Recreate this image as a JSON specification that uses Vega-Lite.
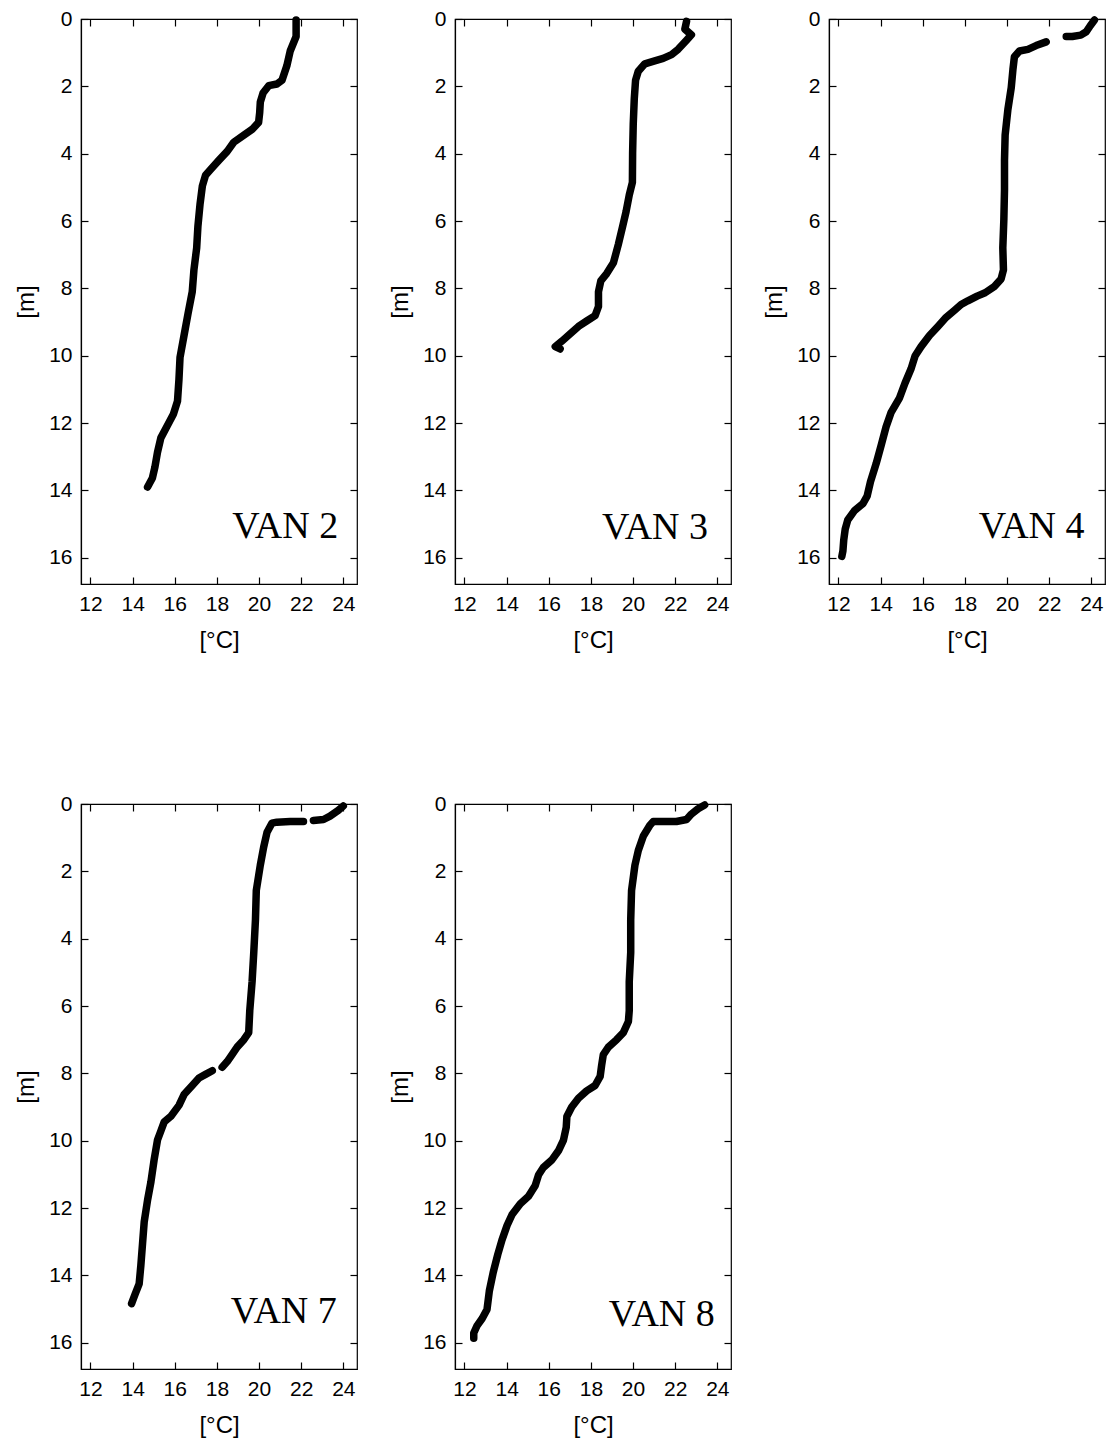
{
"$schema":"https://vega.github.io/schema/vega-lite/v6.json",
"background":"white",
"padding":{"left":14,"top":7,"right":5,"bottom":5},
"config":{"font":"Liberation Sans","view":{"stroke":"#000","strokeWidth":1.2},
"axis":{"grid":false,"labelFont":"Liberation Sans","labelFontSize":21,"labelColor":"#000","titleFont":"Liberation Sans","titleFontSize":24,"titleFontWeight":"normal","titleColor":"#000","tickColor":"#000","tickWidth":1.2,"domainColor":"#000","domainWidth":1.2,"tickSize":-7,"labelFlush":false}},
"data":{"values":[
{"s":"VAN 2","seg":1,"t":21.76,"d":0.03},{"s":"VAN 2","seg":1,"t":21.76,"d":0.52},{"s":"VAN 2","seg":1,"t":21.48,"d":0.95},{"s":"VAN 2","seg":1,"t":21.32,"d":1.39},{"s":"VAN 2","seg":1,"t":21.09,"d":1.82},{"s":"VAN 2","seg":1,"t":20.85,"d":1.93},{"s":"VAN 2","seg":1,"t":20.46,"d":1.98},{"s":"VAN 2","seg":1,"t":20.19,"d":2.2},{"s":"VAN 2","seg":1,"t":20.06,"d":2.47},{"s":"VAN 2","seg":1,"t":20.03,"d":2.79},{"s":"VAN 2","seg":1,"t":19.98,"d":3.07},{"s":"VAN 2","seg":1,"t":19.67,"d":3.28},{"s":"VAN 2","seg":1,"t":19.28,"d":3.45},{"s":"VAN 2","seg":1,"t":18.8,"d":3.66},{"s":"VAN 2","seg":1,"t":18.49,"d":3.93},{"s":"VAN 2","seg":1,"t":18.09,"d":4.2},{"s":"VAN 2","seg":1,"t":17.7,"d":4.47},{"s":"VAN 2","seg":1,"t":17.46,"d":4.64},{"s":"VAN 2","seg":1,"t":17.31,"d":4.96},{"s":"VAN 2","seg":1,"t":17.2,"d":5.5},{"s":"VAN 2","seg":1,"t":17.1,"d":6.15},{"s":"VAN 2","seg":1,"t":17.04,"d":6.8},{"s":"VAN 2","seg":1,"t":16.91,"d":7.45},{"s":"VAN 2","seg":1,"t":16.83,"d":8.1},{"s":"VAN 2","seg":1,"t":16.63,"d":8.75},{"s":"VAN 2","seg":1,"t":16.44,"d":9.4},{"s":"VAN 2","seg":1,"t":16.25,"d":10.05},{"s":"VAN 2","seg":1,"t":16.2,"d":10.7},{"s":"VAN 2","seg":1,"t":16.13,"d":11.35},{"s":"VAN 2","seg":1,"t":15.94,"d":11.73},{"s":"VAN 2","seg":1,"t":15.62,"d":12.11},{"s":"VAN 2","seg":1,"t":15.34,"d":12.44},{"s":"VAN 2","seg":1,"t":15.18,"d":12.87},{"s":"VAN 2","seg":1,"t":15.06,"d":13.3},{"s":"VAN 2","seg":1,"t":14.94,"d":13.63},{"s":"VAN 2","seg":1,"t":14.71,"d":13.9},
{"s":"VAN 3","seg":1,"t":22.54,"d":0.07},{"s":"VAN 3","seg":1,"t":22.46,"d":0.3},{"s":"VAN 3","seg":1,"t":22.77,"d":0.47},{"s":"VAN 3","seg":1,"t":22.54,"d":0.63},{"s":"VAN 3","seg":1,"t":22.14,"d":0.9},{"s":"VAN 3","seg":1,"t":21.83,"d":1.06},{"s":"VAN 3","seg":1,"t":21.43,"d":1.17},{"s":"VAN 3","seg":1,"t":20.99,"d":1.25},{"s":"VAN 3","seg":1,"t":20.56,"d":1.33},{"s":"VAN 3","seg":1,"t":20.25,"d":1.55},{"s":"VAN 3","seg":1,"t":20.12,"d":1.82},{"s":"VAN 3","seg":1,"t":20.06,"d":2.36},{"s":"VAN 3","seg":1,"t":20.01,"d":3.12},{"s":"VAN 3","seg":1,"t":19.98,"d":3.99},{"s":"VAN 3","seg":1,"t":19.97,"d":4.85},{"s":"VAN 3","seg":1,"t":19.82,"d":5.23},{"s":"VAN 3","seg":1,"t":19.67,"d":5.72},{"s":"VAN 3","seg":1,"t":19.51,"d":6.15},{"s":"VAN 3","seg":1,"t":19.3,"d":6.7},{"s":"VAN 3","seg":1,"t":19.07,"d":7.24},{"s":"VAN 3","seg":1,"t":18.75,"d":7.56},{"s":"VAN 3","seg":1,"t":18.47,"d":7.78},{"s":"VAN 3","seg":1,"t":18.36,"d":8.1},{"s":"VAN 3","seg":1,"t":18.36,"d":8.54},{"s":"VAN 3","seg":1,"t":18.2,"d":8.81},{"s":"VAN 3","seg":1,"t":17.8,"d":8.97},{"s":"VAN 3","seg":1,"t":17.41,"d":9.13},{"s":"VAN 3","seg":1,"t":17.02,"d":9.35},{"s":"VAN 3","seg":1,"t":16.62,"d":9.57},{"s":"VAN 3","seg":1,"t":16.31,"d":9.73},{"s":"VAN 3","seg":1,"t":16.54,"d":9.8},
{"s":"VAN 4","seg":1,"t":24.15,"d":0.03},{"s":"VAN 4","seg":1,"t":23.95,"d":0.2},{"s":"VAN 4","seg":1,"t":23.76,"d":0.38},{"s":"VAN 4","seg":1,"t":23.5,"d":0.48},{"s":"VAN 4","seg":1,"t":23.1,"d":0.52},{"s":"VAN 4","seg":1,"t":22.81,"d":0.52},
{"s":"VAN 4","seg":2,"t":21.86,"d":0.68},{"s":"VAN 4","seg":2,"t":21.38,"d":0.79},{"s":"VAN 4","seg":2,"t":20.99,"d":0.9},{"s":"VAN 4","seg":2,"t":20.59,"d":0.95},{"s":"VAN 4","seg":2,"t":20.35,"d":1.12},{"s":"VAN 4","seg":2,"t":20.28,"d":1.5},{"s":"VAN 4","seg":2,"t":20.2,"d":2.04},{"s":"VAN 4","seg":2,"t":20.04,"d":2.69},{"s":"VAN 4","seg":2,"t":19.91,"d":3.45},{"s":"VAN 4","seg":2,"t":19.88,"d":4.2},{"s":"VAN 4","seg":2,"t":19.88,"d":5.07},{"s":"VAN 4","seg":2,"t":19.85,"d":5.94},{"s":"VAN 4","seg":2,"t":19.8,"d":6.8},{"s":"VAN 4","seg":2,"t":19.83,"d":7.45},{"s":"VAN 4","seg":2,"t":19.72,"d":7.72},{"s":"VAN 4","seg":2,"t":19.41,"d":7.94},{"s":"VAN 4","seg":2,"t":18.96,"d":8.13},{"s":"VAN 4","seg":2,"t":18.58,"d":8.23},{"s":"VAN 4","seg":2,"t":18.14,"d":8.37},{"s":"VAN 4","seg":2,"t":17.82,"d":8.48},{"s":"VAN 4","seg":2,"t":17.51,"d":8.65},{"s":"VAN 4","seg":2,"t":17.11,"d":8.86},{"s":"VAN 4","seg":2,"t":16.72,"d":9.13},{"s":"VAN 4","seg":2,"t":16.32,"d":9.4},{"s":"VAN 4","seg":2,"t":15.92,"d":9.73},{"s":"VAN 4","seg":2,"t":15.64,"d":10.0},{"s":"VAN 4","seg":2,"t":15.45,"d":10.38},{"s":"VAN 4","seg":2,"t":15.16,"d":10.81},{"s":"VAN 4","seg":2,"t":14.9,"d":11.25},{"s":"VAN 4","seg":2,"t":14.5,"d":11.68},{"s":"VAN 4","seg":2,"t":14.26,"d":12.11},{"s":"VAN 4","seg":2,"t":14.03,"d":12.65},{"s":"VAN 4","seg":2,"t":13.79,"d":13.2},{"s":"VAN 4","seg":2,"t":13.52,"d":13.74},{"s":"VAN 4","seg":2,"t":13.36,"d":14.17},{"s":"VAN 4","seg":2,"t":13.16,"d":14.39},{"s":"VAN 4","seg":2,"t":12.76,"d":14.6},{"s":"VAN 4","seg":2,"t":12.44,"d":14.88},{"s":"VAN 4","seg":2,"t":12.32,"d":15.15},{"s":"VAN 4","seg":2,"t":12.25,"d":15.47},{"s":"VAN 4","seg":2,"t":12.21,"d":15.8},{"s":"VAN 4","seg":2,"t":12.16,"d":15.96},
{"s":"VAN 7","seg":1,"t":24.0,"d":0.06},{"s":"VAN 7","seg":1,"t":23.76,"d":0.19},{"s":"VAN 7","seg":1,"t":23.37,"d":0.36},{"s":"VAN 7","seg":1,"t":23.06,"d":0.46},{"s":"VAN 7","seg":1,"t":22.58,"d":0.49},
{"s":"VAN 7","seg":2,"t":22.11,"d":0.52},{"s":"VAN 7","seg":2,"t":21.48,"d":0.52},{"s":"VAN 7","seg":2,"t":20.85,"d":0.54},{"s":"VAN 7","seg":2,"t":20.61,"d":0.57},{"s":"VAN 7","seg":2,"t":20.38,"d":0.84},{"s":"VAN 7","seg":2,"t":20.22,"d":1.28},{"s":"VAN 7","seg":2,"t":20.06,"d":1.82},{"s":"VAN 7","seg":2,"t":19.87,"d":2.57},{"s":"VAN 7","seg":2,"t":19.83,"d":3.44},{"s":"VAN 7","seg":2,"t":19.75,"d":4.41},{"s":"VAN 7","seg":2,"t":19.67,"d":5.28},{"s":"VAN 7","seg":2,"t":19.56,"d":6.14},{"s":"VAN 7","seg":2,"t":19.51,"d":6.79},{"s":"VAN 7","seg":2,"t":19.28,"d":7.0},{"s":"VAN 7","seg":2,"t":18.96,"d":7.22},{"s":"VAN 7","seg":2,"t":18.72,"d":7.44},{"s":"VAN 7","seg":2,"t":18.49,"d":7.65},{"s":"VAN 7","seg":2,"t":18.25,"d":7.82},
{"s":"VAN 7","seg":3,"t":17.78,"d":7.92},{"s":"VAN 7","seg":3,"t":17.46,"d":8.03},{"s":"VAN 7","seg":3,"t":17.15,"d":8.14},{"s":"VAN 7","seg":3,"t":16.83,"d":8.36},{"s":"VAN 7","seg":3,"t":16.44,"d":8.63},{"s":"VAN 7","seg":3,"t":16.2,"d":8.95},{"s":"VAN 7","seg":3,"t":15.81,"d":9.28},{"s":"VAN 7","seg":3,"t":15.5,"d":9.44},{"s":"VAN 7","seg":3,"t":15.34,"d":9.71},{"s":"VAN 7","seg":3,"t":15.18,"d":9.98},{"s":"VAN 7","seg":3,"t":15.02,"d":10.57},{"s":"VAN 7","seg":3,"t":14.87,"d":11.22},{"s":"VAN 7","seg":3,"t":14.71,"d":11.76},{"s":"VAN 7","seg":3,"t":14.55,"d":12.41},{"s":"VAN 7","seg":3,"t":14.47,"d":13.06},{"s":"VAN 7","seg":3,"t":14.39,"d":13.71},{"s":"VAN 7","seg":3,"t":14.31,"d":14.25},{"s":"VAN 7","seg":3,"t":14.11,"d":14.57},{"s":"VAN 7","seg":3,"t":13.95,"d":14.84},
{"s":"VAN 8","seg":1,"t":23.4,"d":0.03},{"s":"VAN 8","seg":1,"t":23.09,"d":0.14},{"s":"VAN 8","seg":1,"t":22.77,"d":0.3},{"s":"VAN 8","seg":1,"t":22.54,"d":0.46},{"s":"VAN 8","seg":1,"t":22.06,"d":0.52},{"s":"VAN 8","seg":1,"t":21.43,"d":0.52},{"s":"VAN 8","seg":1,"t":20.96,"d":0.52},{"s":"VAN 8","seg":1,"t":20.8,"d":0.63},{"s":"VAN 8","seg":1,"t":20.49,"d":0.95},{"s":"VAN 8","seg":1,"t":20.25,"d":1.38},{"s":"VAN 8","seg":1,"t":20.09,"d":1.82},{"s":"VAN 8","seg":1,"t":19.93,"d":2.57},{"s":"VAN 8","seg":1,"t":19.89,"d":3.44},{"s":"VAN 8","seg":1,"t":19.89,"d":4.41},{"s":"VAN 8","seg":1,"t":19.82,"d":5.28},{"s":"VAN 8","seg":1,"t":19.82,"d":6.14},{"s":"VAN 8","seg":1,"t":19.78,"d":6.46},{"s":"VAN 8","seg":1,"t":19.54,"d":6.79},{"s":"VAN 8","seg":1,"t":19.22,"d":7.0},{"s":"VAN 8","seg":1,"t":18.83,"d":7.22},{"s":"VAN 8","seg":1,"t":18.59,"d":7.44},{"s":"VAN 8","seg":1,"t":18.51,"d":7.76},{"s":"VAN 8","seg":1,"t":18.44,"d":8.09},{"s":"VAN 8","seg":1,"t":18.2,"d":8.36},{"s":"VAN 8","seg":1,"t":17.8,"d":8.52},{"s":"VAN 8","seg":1,"t":17.41,"d":8.74},{"s":"VAN 8","seg":1,"t":17.09,"d":9.0},{"s":"VAN 8","seg":1,"t":16.86,"d":9.28},{"s":"VAN 8","seg":1,"t":16.83,"d":9.6},{"s":"VAN 8","seg":1,"t":16.7,"d":9.98},{"s":"VAN 8","seg":1,"t":16.46,"d":10.3},{"s":"VAN 8","seg":1,"t":16.15,"d":10.57},{"s":"VAN 8","seg":1,"t":15.75,"d":10.79},{"s":"VAN 8","seg":1,"t":15.52,"d":11.01},{"s":"VAN 8","seg":1,"t":15.36,"d":11.33},{"s":"VAN 8","seg":1,"t":15.04,"d":11.65},{"s":"VAN 8","seg":1,"t":14.65,"d":11.87},{"s":"VAN 8","seg":1,"t":14.26,"d":12.19},{"s":"VAN 8","seg":1,"t":14.02,"d":12.52},{"s":"VAN 8","seg":1,"t":13.78,"d":12.95},{"s":"VAN 8","seg":1,"t":13.58,"d":13.38},{"s":"VAN 8","seg":1,"t":13.36,"d":13.92},{"s":"VAN 8","seg":1,"t":13.18,"d":14.46},{"s":"VAN 8","seg":1,"t":13.07,"d":15.01},{"s":"VAN 8","seg":1,"t":12.84,"d":15.28},{"s":"VAN 8","seg":1,"t":12.6,"d":15.49},{"s":"VAN 8","seg":1,"t":12.44,"d":15.71},{"s":"VAN 8","seg":1,"t":12.44,"d":15.87}
]},
"columns":3,
"spacing":{"row":220,"column":98},
"bounds":"flush",
"concat":[
{"width":276,"height":565,"layer":[
 {"transform":[{"filter":"datum.s==='VAN 2'"}],"mark":{"type":"line","color":"#000","strokeWidth":7.5,"strokeCap":"round","strokeJoin":"round"},
  "encoding":{"x":{"field":"t","type":"quantitative","scale":{"domain":[11.55,24.65],"nice":false,"zero":false},"axis":{"values":[12,14,16,18,20,22,24],"title":"[°C]","labelPadding":16,"titlePadding":14}},
   "y":{"field":"d","type":"quantitative","scale":{"domain":[0,16.78],"nice":false,"reverse":true},"axis":{"values":[0,2,4,6,8,10,12,14,16],"title":"[m]","labelPadding":16,"titlePadding":10}},
   "detail":{"field":"seg"},"order":{"value":null}}},
 {"data":{"values":[{"label":"VAN 2"}]},"mark":{"type":"text","font":"Liberation Serif","fontSize":38,"align":"right","baseline":"alphabetic","color":"#000"},
  "encoding":{"x":{"datum":23.76,"type":"quantitative","axis":{"orient":"top","values":[12,14,16,18,20,22,24],"labels":false,"title":null,"domain":false}},
   "y":{"datum":15.4,"type":"quantitative","axis":{"orient":"right","values":[0,2,4,6,8,10,12,14,16],"labels":false,"title":null,"domain":false}},
   "text":{"field":"label"}}}
 ],"resolve":{"axis":{"x":"independent","y":"independent"}}},
{"width":276,"height":565,"layer":[
 {"transform":[{"filter":"datum.s==='VAN 3'"}],"mark":{"type":"line","color":"#000","strokeWidth":7.5,"strokeCap":"round","strokeJoin":"round"},
  "encoding":{"x":{"field":"t","type":"quantitative","scale":{"domain":[11.55,24.65],"nice":false,"zero":false},"axis":{"values":[12,14,16,18,20,22,24],"title":"[°C]","labelPadding":16,"titlePadding":14}},
   "y":{"field":"d","type":"quantitative","scale":{"domain":[0,16.78],"nice":false,"reverse":true},"axis":{"values":[0,2,4,6,8,10,12,14,16],"title":"[m]","labelPadding":16,"titlePadding":10}},
   "detail":{"field":"seg"},"order":{"value":null}}},
 {"data":{"values":[{"label":"VAN 3"}]},"mark":{"type":"text","font":"Liberation Serif","fontSize":38,"align":"right","baseline":"alphabetic","color":"#000"},
  "encoding":{"x":{"datum":23.56,"type":"quantitative","axis":{"orient":"top","values":[12,14,16,18,20,22,24],"labels":false,"title":null,"domain":false}},
   "y":{"datum":15.45,"type":"quantitative","axis":{"orient":"right","values":[0,2,4,6,8,10,12,14,16],"labels":false,"title":null,"domain":false}},
   "text":{"field":"label"}}}
 ],"resolve":{"axis":{"x":"independent","y":"independent"}}},
{"width":276,"height":565,"layer":[
 {"transform":[{"filter":"datum.s==='VAN 4'"}],"mark":{"type":"line","color":"#000","strokeWidth":7.5,"strokeCap":"round","strokeJoin":"round"},
  "encoding":{"x":{"field":"t","type":"quantitative","scale":{"domain":[11.55,24.65],"nice":false,"zero":false},"axis":{"values":[12,14,16,18,20,22,24],"title":"[°C]","labelPadding":16,"titlePadding":14}},
   "y":{"field":"d","type":"quantitative","scale":{"domain":[0,16.78],"nice":false,"reverse":true},"axis":{"values":[0,2,4,6,8,10,12,14,16],"title":"[m]","labelPadding":16,"titlePadding":10}},
   "detail":{"field":"seg"},"order":{"value":null}}},
 {"data":{"values":[{"label":"VAN 4"}]},"mark":{"type":"text","font":"Liberation Serif","fontSize":38,"align":"right","baseline":"alphabetic","color":"#000"},
  "encoding":{"x":{"datum":23.68,"type":"quantitative","axis":{"orient":"top","values":[12,14,16,18,20,22,24],"labels":false,"title":null,"domain":false}},
   "y":{"datum":15.4,"type":"quantitative","axis":{"orient":"right","values":[0,2,4,6,8,10,12,14,16],"labels":false,"title":null,"domain":false}},
   "text":{"field":"label"}}}
 ],"resolve":{"axis":{"x":"independent","y":"independent"}}},
{"width":276,"height":565,"layer":[
 {"transform":[{"filter":"datum.s==='VAN 7'"}],"mark":{"type":"line","color":"#000","strokeWidth":7.5,"strokeCap":"round","strokeJoin":"round"},
  "encoding":{"x":{"field":"t","type":"quantitative","scale":{"domain":[11.55,24.65],"nice":false,"zero":false},"axis":{"values":[12,14,16,18,20,22,24],"title":"[°C]","labelPadding":16,"titlePadding":14}},
   "y":{"field":"d","type":"quantitative","scale":{"domain":[0,16.78],"nice":false,"reverse":true},"axis":{"values":[0,2,4,6,8,10,12,14,16],"title":"[m]","labelPadding":16,"titlePadding":10}},
   "detail":{"field":"seg"},"order":{"value":null}}},
 {"data":{"values":[{"label":"VAN 7"}]},"mark":{"type":"text","font":"Liberation Serif","fontSize":38,"align":"right","baseline":"alphabetic","color":"#000"},
  "encoding":{"x":{"datum":23.69,"type":"quantitative","axis":{"orient":"top","values":[12,14,16,18,20,22,24],"labels":false,"title":null,"domain":false}},
   "y":{"datum":15.42,"type":"quantitative","axis":{"orient":"right","values":[0,2,4,6,8,10,12,14,16],"labels":false,"title":null,"domain":false}},
   "text":{"field":"label"}}}
 ],"resolve":{"axis":{"x":"independent","y":"independent"}}},
{"width":276,"height":565,"layer":[
 {"transform":[{"filter":"datum.s==='VAN 8'"}],"mark":{"type":"line","color":"#000","strokeWidth":7.5,"strokeCap":"round","strokeJoin":"round"},
  "encoding":{"x":{"field":"t","type":"quantitative","scale":{"domain":[11.55,24.65],"nice":false,"zero":false},"axis":{"values":[12,14,16,18,20,22,24],"title":"[°C]","labelPadding":16,"titlePadding":14}},
   "y":{"field":"d","type":"quantitative","scale":{"domain":[0,16.78],"nice":false,"reverse":true},"axis":{"values":[0,2,4,6,8,10,12,14,16],"title":"[m]","labelPadding":16,"titlePadding":10}},
   "detail":{"field":"seg"},"order":{"value":null}}},
 {"data":{"values":[{"label":"VAN 8"}]},"mark":{"type":"text","font":"Liberation Serif","fontSize":38,"align":"right","baseline":"alphabetic","color":"#000"},
  "encoding":{"x":{"datum":23.88,"type":"quantitative","axis":{"orient":"top","values":[12,14,16,18,20,22,24],"labels":false,"title":null,"domain":false}},
   "y":{"datum":15.49,"type":"quantitative","axis":{"orient":"right","values":[0,2,4,6,8,10,12,14,16],"labels":false,"title":null,"domain":false}},
   "text":{"field":"label"}}}
 ],"resolve":{"axis":{"x":"independent","y":"independent"}}}
]
}
